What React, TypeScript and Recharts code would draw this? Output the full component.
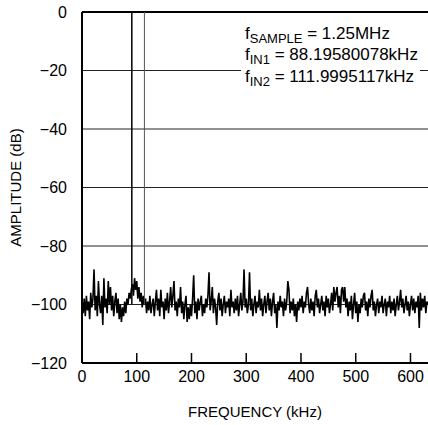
import { LineChart, Line, XAxis, YAxis, CartesianGrid, ReferenceLine } from 'recharts';

// FFT of two-tone test, 2 kHz between shown bins
const FREQ_STEP = 2;
const NOISE_DB = [
  -99, -103, -98, -104, -97, -102, -99, -105, -96, -101, -98, -88, -102, -97, -104, -92, -100, -103, -97, -107,
  -91, -101, -98, -103, -92, -100, -94, -102, -97, -104, -99, -96, -103, -98, -105, -100, -106, -101, -104, -99,
  -103, -98, -100, -96, -98, -95, -93, -97, -91, -95, -92, -98, -94, -99, -96, -101, -97, -100, -98, -103,
  -99, -102, -97, -103, -100, -98, -104, -99, -95, -102, -98, -104, -95, -101, -99, -105, -98, -102, -96, -103,
  -99, -94, -101, -97, -92, -102, -99, -104, -98, -101, -94, -103, -99, -105, -100, -97, -106, -101, -105, -100,
  -104, -98, -90, -103, -99, -105, -98, -102, -99, -97, -104, -100, -103, -98, -101, -97, -89, -102, -99, -94,
  -103, -98, -101, -107, -99, -96, -102, -98, -104, -100, -97, -103, -99, -101, -98, -104, -95, -101, -99, -103,
  -98, -102, -97, -104, -100, -96, -102, -99, -88, -101, -98, -103, -100, -89, -102, -98, -104, -100, -97, -103,
  -99, -101, -95, -102, -98, -104, -100, -97, -103, -99, -96, -102, -98, -104, -99, -96, -103, -100, -108, -99,
  -102, -97, -101, -99, -104, -98, -102, -99, -92, -95, -103, -99, -102, -98, -104, -100, -106, -99, -102, -98,
  -101, -97, -103, -99, -101, -96, -94, -100, -103, -98, -102, -99, -104, -97, -95, -101, -98, -103, -100, -97,
  -102, -99, -104, -97, -101, -98, -103, -100, -96, -102, -94, -99, -96, -94, -101, -97, -103, -95, -94, -99,
  -94, -101, -98, -104, -99, -102, -97, -105, -100, -96, -103, -99, -106, -100, -103, -98, -101, -97, -96, -102,
  -99, -104, -98, -101, -97, -95, -102, -99, -104, -100, -98, -103, -99, -101, -97, -103, -100, -98, -104, -99,
  -101, -97, -103, -99, -102, -98, -104, -100, -97, -102, -99, -95, -101, -98, -103, -100, -97, -102, -99, -104,
  -100, -97, -102, -98, -103, -99, -101, -97, -108, -96, -102, -98, -101, -97, -103, -99, -100,
];
const TONE_FREQS = [91, 114];
const TONE_COLORS = ['#000', '#555'];
const TONE_PEAK = 0;
const TONE_FOOT = -100;
const X_TICKS = [0, 100, 200, 300, 400, 500, 600];
const Y_TICKS = [0, -20, -40, -60, -80, -100, -120];
const NOTES = [
  { sub: 'SAMPLE', rest: ' = 1.25MHz' },
  { sub: 'IN1', rest: ' = 88.19580078kHz' },
  { sub: 'IN2', rest: ' = 111.9995117kHz' },
];

const FONT = '"Liberation Sans", Arial, sans-serif';
const W = 428;
const H = 425;
const M_TOP = 12;
const Y_AXIS_W = 82;
const X_AXIS_H = 62;
const X_DOMAIN: [number, number] = [0, 632];

const noise = NOISE_DB.map((a, i) => ({ f: i * FREQ_STEP, a }));
const tones = TONE_FREQS.map(f => [{ f, a: TONE_FOOT }, { f, a: TONE_PEAK }]);

// same linear mapping the x axis uses, for the short inner tick marks
const plotBottom = H - X_AXIS_H;
const xPix = (f: number) => Y_AXIS_W + ((f - X_DOMAIN[0]) / (X_DOMAIN[1] - X_DOMAIN[0])) * (W - Y_AXIS_W);

const fmtDb = (v: number) => (v < 0 ? `\u2212${-v}` : `${v}`);

export default function App() {
  return (
    <div style={{ position: 'relative', width: W, height: H, fontFamily: FONT }}>
      <style>{'body{margin:0}'}</style>
      <LineChart width={W} height={H} margin={{ top: M_TOP, right: 0, bottom: 0, left: 0 }}>
        <CartesianGrid vertical={false} stroke="#222" />
        <XAxis
          dataKey="f"
          type="number"
          domain={X_DOMAIN}
          ticks={X_TICKS}
          allowDataOverflow
          height={X_AXIS_H}
          tickLine={false}
          tickSize={0}
          tickMargin={8}
          tick={{ fontSize: 16, fill: '#000', fontFamily: FONT }}
          axisLine={{ stroke: '#000', strokeWidth: 2 }}
          label={{ value: 'FREQUENCY (kHz)', position: 'insideBottom', offset: 8, fontSize: 15, fill: '#000' }}
        />
        <YAxis
          type="number"
          domain={[-120, 0]}
          ticks={Y_TICKS}
          width={Y_AXIS_W}
          tickLine={false}
          tickSize={0}
          tickMargin={15}
          tickFormatter={fmtDb}
          tick={{ fontSize: 16, fill: '#000', fontFamily: FONT }}
          axisLine={{ stroke: '#000', strokeWidth: 2 }}
          label={{
            value: 'AMPLITUDE (dB)',
            angle: -90,
            position: 'insideLeft',
            offset: 16,
            fontSize: 15,
            fill: '#000',
            style: { textAnchor: 'middle' },
          }}
        />
        <ReferenceLine y={0} stroke="#000" strokeWidth={2} />
        <Line
          data={noise}
          dataKey="a"
          type="linear"
          stroke="#000"
          strokeWidth={1.6}
          dot={false}
          isAnimationActive={false}
        />
        {tones.map((d, i) => (
          <Line
            key={i}
            data={d}
            dataKey="a"
            type="linear"
            stroke={TONE_COLORS[i]}
            strokeWidth={i === 0 ? 1.5 : 1}
            dot={false}
            isAnimationActive={false}
          />
        ))}
      </LineChart>
      <svg width={W} height={H} style={{ position: 'absolute', left: 0, top: 0, pointerEvents: 'none' }}>
        {X_TICKS.filter(t => t > 0).map(t => (
          <line key={t} x1={xPix(t)} x2={xPix(t)} y1={plotBottom} y2={plotBottom - 10} stroke="#000" strokeWidth={1.5} />
        ))}
        <rect x={241} y={20} width={179} height={68} fill="#fff" />
        {NOTES.map((n, i) => (
          <text key={i} x={245} y={38.5 + i * 21.5} fontSize={17} fill="#000" fontFamily={FONT}>
            <tspan>f</tspan>
            <tspan dy={4} fontSize={13}>{n.sub}</tspan>
            <tspan dy={-4}>{n.rest}</tspan>
          </text>
        ))}
      </svg>
    </div>
  );
}
